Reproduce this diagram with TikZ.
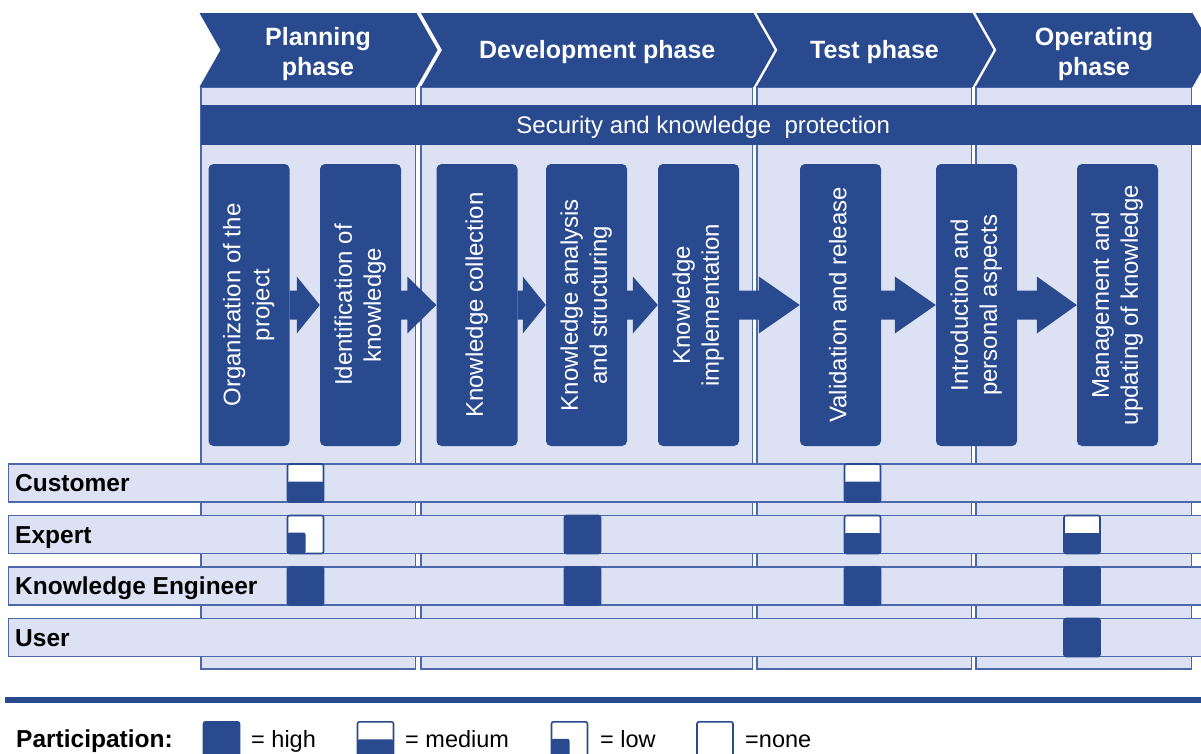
\documentclass[tikz,border=0pt]{standalone}
\usepackage{fontspec}
\setmainfont{Liberation Sans}
\usepackage{graphicx}
\usetikzlibrary{calc}
\usetikzlibrary{positioning}

\definecolor{kblue}{RGB}{41,74,143}
\definecolor{klight}{RGB}{220,226,244}
\definecolor{kedge}{RGB}{76,104,170}

\newcommand\vtext[1]{\rotatebox{90}{\begin{tabular}{@{}c@{}}#1\end{tabular}}}
\newcommand\flowarrow[3]{\fill[kblue] ($(#1.east)+(0,-14.5)$) -- ($(#2.west)+(-#3,-14.5)$) -- ($(#2.west)+(-#3,-28.5)$) -- (#2.west) -- ($(#2.west)+(-#3,28.5)$) -- ($(#2.west)+(-#3,14.5)$) -- ($(#1.east)+(0,14.5)$) -- cycle;}

\tikzset{
 panel/.style={fill=klight, draw=kedge, line width=1.2pt},
 lane/.style={fill=klight, draw=kedge, line width=1.4pt, minimum width=1210pt, minimum height=38pt, inner sep=0pt, anchor=west},
 stepbox/.style={fill=kblue, rounded corners=5pt, minimum width=81pt, minimum height=282pt, inner sep=0pt, text=white, font=\fontsize{24}{29}\selectfont},
 pbox/.style={minimum width=36pt, minimum height=38pt, inner sep=0pt, draw=kblue, line width=1.6pt, rounded corners=2pt},
 phigh/.style={pbox, fill=kblue},
 pnone/.style={pbox, fill=white},
 pmed/.style={pnone, path picture={\fill[kblue] ([yshift=1.5pt]path picture bounding box.west) rectangle (path picture bounding box.south east);}},
 plow/.style={pnone, path picture={\fill[kblue] (path picture bounding box.south west) rectangle ([yshift=2pt]path picture bounding box.center);}},
 keytext/.style={anchor=base west, inner sep=0pt, font=\fontsize{23.5}{28}\selectfont},
 roletext/.style={anchor=base west, inner sep=0pt, font=\fontsize{24.5}{29}\selectfont\bfseries}
}

\begin{document}
\begin{tikzpicture}[x=1pt,y=-1pt]
\useasboundingbox (0,0) rectangle (1201,753);
\clip (0,0) rectangle (1201,753);
\foreach \l/\r in {201/415.5, 421/752.5, 757/971.5, 976/1191.5}
 \draw[panel] (\l,87) rectangle (\r,669);
\foreach \l/\r/\t/\ty [count=\i] in {199.5/416.5/{Planning\\phase}/54, 421/753.5/{Development phase}/52, 756.5/972.5/{Test phase}/52, 975.5/1192.5/{Operating\\phase}/54} {
 \fill[kblue] (\l,13) -- (\r,13) -- (\r+21,50) -- (\r,87) -- (\l,87) -- (\l+21,50) -- cycle;
 \node[text=white, align=center, font=\fontsize{25}{30}\selectfont\bfseries] (ph\i) at ({(\l+\r)/2+10},\ty) {\t};
 }
\node[fill=kblue, text=white, minimum width=1004pt, minimum height=40pt, inner sep=0pt, anchor=west, text height=17pt, text depth=0pt, font=\fontsize{24}{28}\selectfont] (secu) at (201,125) {Security and knowledge~ protection};
\foreach \x/\n/\t in {249/b1/{Organization of the\\project}, 360.5/b2/{Identification of\\knowledge}, 477/b3/{Knowledge collection}, 586.5/b4/{Knowledge analysis\\and structuring}, 698.5/b5/{Knowledge\\implementation}, 840.5/b6/{Validation and release}, 976.5/b7/{Introduction and\\personal aspects}, 1117.5/b8/{Management and\\updating of knowledge}}
 \node[stepbox] (\n) at (\x,305) {\vtext{\t}};
\foreach \a/\b/\h in {b1/b2/23, b2/b3/29, b3/b4/23, b4/b5/25, b5/b6/41, b6/b7/41, b7/b8/40}
 {\flowarrow{\a}{\b}{\h}}
\foreach \y/\n/\t in {483/cust/Customer, 534.5/expt/Expert, 586/keng/Knowledge Engineer, 637.5/user/User} {
 \node[lane] (\n) at (8,\y) {};
 \node[roletext] (\n-t) at (15,\y+8.7) {\t};
 }
\foreach \c/\x in {cA/305.5, cB/582.5, cC/862.5, cD/1082}
 \coordinate (\c) at (\x,0);
\foreach \c/\r/\s in {cA/cust/pmed, cC/cust/pmed, cA/expt/plow, cB/expt/phigh, cC/expt/pmed, cD/expt/pmed, cA/keng/phigh, cB/keng/phigh, cC/keng/phigh, cD/keng/phigh, cD/user/phigh}
 \node[\s] (\r-\c) at (\c |- \r) {};
\draw[kblue, line width=5.4pt] (5,700) -- (1201,700);
\node[roletext] (part) at (16,747) {Participation:};
\foreach \x/\s/\t/\tx [count=\i] in {221.5/phigh/{= high}/251, 375.5/pmed/{= medium}/405, 569.5/plow/{= low}/600, 715/pnone/{=none}/745} {
 \node[\s, anchor=north] (key\i) at (\x,721) {};
 \node[keytext] (key\i-t) at (\tx,747) {\t};
 }
\end{tikzpicture}
\end{document}
